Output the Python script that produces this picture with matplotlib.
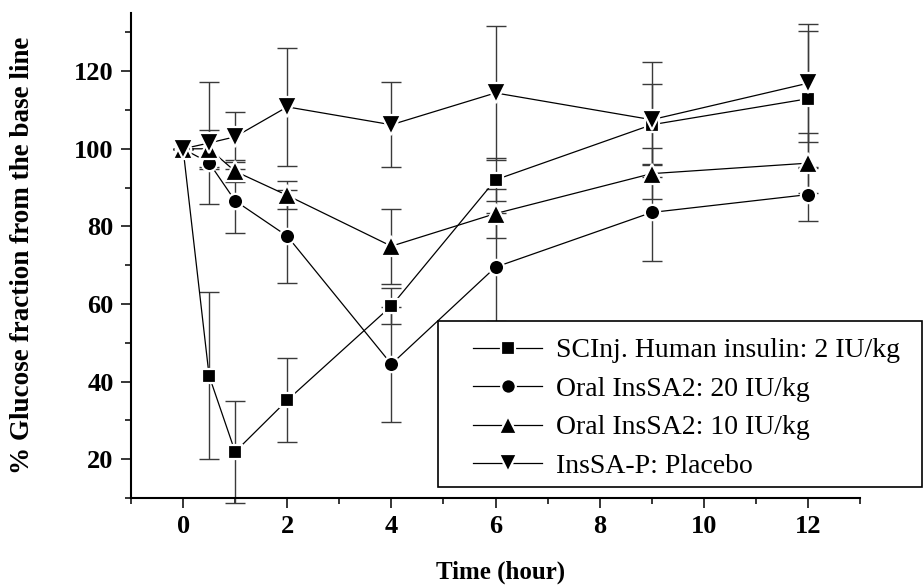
import matplotlib
matplotlib.use('Agg')
import matplotlib.pyplot as plt
from matplotlib.lines import Line2D
from matplotlib.patches import Rectangle
from matplotlib.ticker import MultipleLocator, FixedLocator

plt.rcParams['font.family'] = ['Liberation Serif', 'DejaVu Serif']

# time points (hour)
time = [0, 0.5, 1, 2, 4, 6, 9, 12]

# % glucose fraction from base line, with error bars
sc_insulin = [100, 41.5, 21.9, 35.2, 59.5, 92.0, 106.2, 112.9]
sc_insulin_err = [0, 21.5, 13.1, 10.8, 4.7, 5.5, 10.5, 17.5]

oral_20 = [100, 96.4, 86.6, 77.5, 44.5, 69.5, 83.6, 88.2]
oral_20_err = [0, 1.5, 8.3, 12.0, 14.8, 14.0, 12.4, 6.9]

oral_10 = [100, 100.0, 94.2, 88.0, 74.9, 83.3, 93.6, 96.3]
oral_10_err = [0, 4.8, 2.8, 3.6, 9.7, 6.4, 6.5, 7.7]

placebo = [100, 101.5, 103.1, 110.8, 106.2, 114.4, 107.5, 116.9]
placebo_err = [0, 15.8, 6.4, 15.2, 11.0, 17.3, 14.8, 15.2]

labels = ['SCInj. Human insulin: 2 IU/kg', 'Oral InsSA2: 20 IU/kg',
          'Oral InsSA2: 10 IU/kg', 'InsSA-P: Placebo']

series = [
    (sc_insulin, sc_insulin_err, 's', 10),
    (oral_20, oral_20_err, 'o', 11),
    (oral_10, oral_10_err, '^', 14),
    (placebo, placebo_err, 'v', 14),
]

W, H = 924, 587
fig = plt.figure(figsize=(W / 100, H / 100), dpi=100)
ax = fig.add_axes([131 / W, 1 - 498 / H, (860 - 131) / W, (498 - 13) / H])

handles = []
for (vals, errs, mk, ms), lab in zip(series, labels):
    ax.errorbar(time, vals, yerr=errs, fmt='none', ecolor='#3a3a3a',
                elinewidth=1.0, capsize=7, capthick=1.0, zorder=2,
                clip_on=False)
    ax.plot(time, vals, '-', color='black', lw=0.9, zorder=3)
    ax.plot(time, vals, linestyle='none', marker=mk, ms=ms, mfc='black',
            mec='white', mew=1.6, zorder=4, clip_on=False)
    handles.append(Line2D([], [], color='black', lw=0.9, marker=mk,
                          ms=ms - 0.5, mfc='black', mec='white', mew=1.6))

ax.set_xlim(-1, 13)
ax.set_ylim(10, 135)
ax.xaxis.set_major_locator(FixedLocator([0, 2, 4, 6, 8, 10, 12]))
ax.xaxis.set_minor_locator(MultipleLocator(1))
ax.yaxis.set_major_locator(FixedLocator([20, 40, 60, 80, 100, 120]))
ax.yaxis.set_minor_locator(MultipleLocator(10))

for s in ['top', 'right']:
    ax.spines[s].set_visible(False)
for s in ['left', 'bottom']:
    ax.spines[s].set_linewidth(1.5)

ax.tick_params(which='major', direction='out', length=7.5, width=1.1,
               labelsize=19, pad=5)
ax.tick_params(which='minor', direction='out', length=4, width=1.1)
for t in ax.get_xticklabels() + ax.get_yticklabels():
    t.set_fontweight('bold')

fig.text(501 / W, 1 - 572 / H, 'Time (hour)', ha='center', va='center',
         fontsize=18, fontweight='bold')
fig.text(23 / W, 1 - 255 / H, '% Glucose fraction from the base line',
         ha='center', va='center', rotation=90, fontsize=19.5,
         fontweight='bold')

# legend box drawn separately so the left margin matches
fig.patches.append(Rectangle((438 / W, 1 - 487 / H), (922 - 438) / W,
                             (487 - 321) / H, transform=fig.transFigure,
                             facecolor='white', edgecolor='black', lw=1.2,
                             zorder=3))
fig.legend(handles, labels, loc='upper left',
           bbox_to_anchor=(473 / W, 1 - 338 / H),
           bbox_transform=fig.transFigure, frameon=False, fontsize=20,
           borderpad=0, borderaxespad=0, labelspacing=0.47,
           handlelength=2.5, handletextpad=0.5).set_zorder(5)

fig.savefig('out.png', dpi=100)
